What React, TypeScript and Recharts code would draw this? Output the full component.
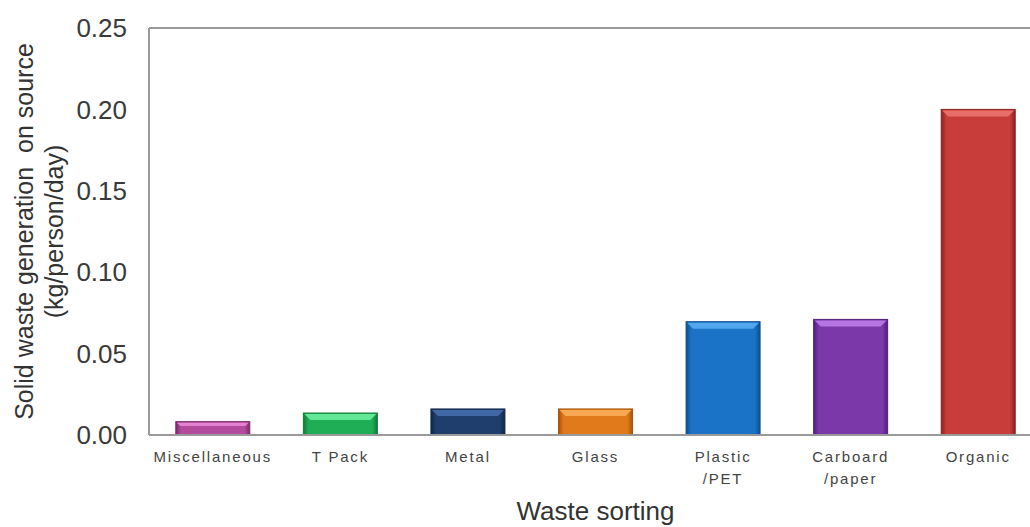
import React from "react";
import { BarChart, Bar, XAxis, YAxis, ReferenceLine, Cell } from "recharts";

const categories = ["Miscellaneous", "T Pack", "Metal", "Glass", "Plastic\n/PET", "Carboard\n/paper", "Organic"];
const values = [0.0082, 0.0135, 0.016, 0.016, 0.0696, 0.071, 0.2];
const yTicks = [0, 0.05, 0.1, 0.15, 0.2, 0.25];

const mainColors = ["#b24a9e", "#1fae55", "#1f3e6e", "#e07a1a", "#1a73c6", "#7a38a8", "#c83c3a"];
const lightColors = ["#e482d2", "#62e896", "#4068a6", "#f8a852", "#52a6ee", "#b676e2", "#e86e6a"];
const darkColors = ["#7a2a6a", "#127a3a", "#12264a", "#a9540c", "#0f4e8c", "#52207a", "#8c2222"];

const data = categories.map((name, i) => ({ name, value: values[i] }));

const BevelBar = (props: any) => {
  const { x, y, width, height, index } = props;
  if (!height || height <= 0) return null;
  const b = Math.min(7, height / 3);
  const id = `g${index}`;
  return (
    <g>
      <defs>
        <linearGradient id={id} x1="0" y1="0" x2="1" y2="0">
          <stop offset="0" stopColor={darkColors[index]} />
          <stop offset="0.07" stopColor={mainColors[index]} />
          <stop offset="0.93" stopColor={mainColors[index]} />
          <stop offset="1" stopColor={darkColors[index]} />
        </linearGradient>
      </defs>
      <rect x={x} y={y} width={width} height={height} fill={`url(#${id})`} stroke={darkColors[index]} strokeWidth={1} />
      <polygon
        points={`${x + 1},${y + 1} ${x + width - 1},${y + 1} ${x + width - b},${y + b} ${x + b},${y + b}`}
        fill={lightColors[index]}
      />
    </g>
  );
};

const CatTick = (props: any) => {
  const { x, y, payload } = props;
  const lines = String(payload.value).split("\n");
  return (
    <text x={x} y={y} textAnchor="middle" fill="#444" fontSize={15} letterSpacing={1.8} fontFamily="Liberation Sans, Arial, sans-serif">
      {lines.map((l, i) => (
        <tspan key={i} x={x} dy={i === 0 ? 19 : 22}>{l}</tspan>
      ))}
    </text>
  );
};

const YTitle = (props: any) => {
  const vb = props.viewBox;
  const cy = vb.y + vb.height / 2;
  return (
    <g fill="#333" fontSize={25} fontFamily="Liberation Sans, Arial, sans-serif">
      <text x={33} y={cy} textAnchor="middle" transform={`rotate(-90, 33, ${cy})`} style={{ whiteSpace: "pre" }}>
        Solid waste generation  on source
      </text>
      <text x={63} y={cy} textAnchor="middle" transform={`rotate(-90, 63, ${cy})`}>
        (kg/person/day)
      </text>
    </g>
  );
};

const XTitle = (props: any) => {
  const vb = props.viewBox;
  return (
    <text x={vb.x + vb.width / 2} y={vb.y + 85} textAnchor="middle" fill="#333" fontSize={26} fontFamily="Liberation Sans, Arial, sans-serif">
      Waste sorting
    </text>
  );
};

export default function App() {
  return (
    <div style={{ position: "fixed", left: 0, top: 0, width: 1030, height: 527, overflow: "hidden", background: "#fff" }}>
      <BarChart width={1042} height={527} data={data} margin={{ top: 28, right: 0, left: 0, bottom: 0 }} barCategoryGap="21%">
        <XAxis
          dataKey="name"
          height={92}
          interval={0}
          tick={<CatTick />}
          tickLine={false}
          axisLine={{ stroke: "#9a9a9a", strokeWidth: 2 }}
          label={<XTitle />}
        />
        <YAxis
          width={149}
          domain={[0, 0.25]}
          ticks={yTicks}
          tickFormatter={(v: number) => v.toFixed(2)}
          tickLine={false}
          tickMargin={16}
          axisLine={{ stroke: "#9a9a9a", strokeWidth: 2 }}
          tick={{ fill: "#3a3a3a", fontSize: 26, fontFamily: "Liberation Sans, Arial, sans-serif" }}
          label={<YTitle />}
        />
        <ReferenceLine y={0.25} stroke="#9a9a9a" strokeWidth={2} />
        <Bar dataKey="value" isAnimationActive={false} shape={<BevelBar />}>
          {data.map((d, i) => (
            <Cell key={d.name} fill={mainColors[i]} />
          ))}
        </Bar>
      </BarChart>
    </div>
  );
}
